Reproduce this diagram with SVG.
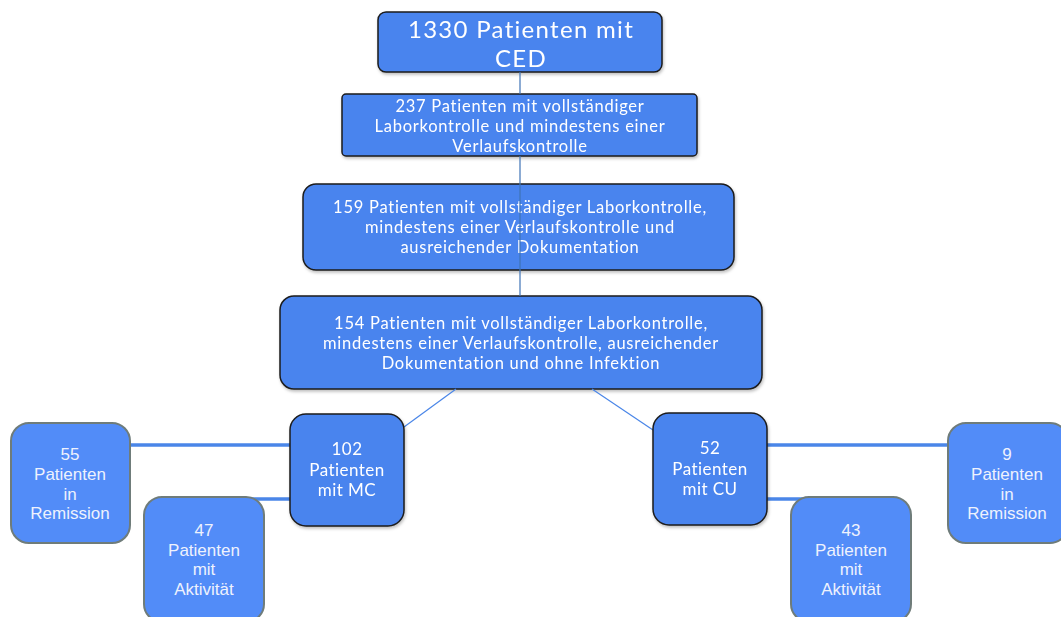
<svg xmlns="http://www.w3.org/2000/svg" width="1061" height="617" viewBox="0 0 1061 617">
<style>
.main{fill:#4a84ee;stroke:#1c1c1c;stroke-width:1.5}
.leaf{fill:#528cf8;stroke:#6f7c7a;stroke-width:2}
.t{font-family:Lato,"Open Sans",sans-serif;fill:#ffffff;text-anchor:middle}
.s{font-size:16.5px;letter-spacing:0.75px}
.m{font-size:17px;letter-spacing:0.45px}
.h{font-size:24px;letter-spacing:1.3px}
.tl{font-family:"Liberation Sans","DejaVu Sans",sans-serif;fill:#eef2fd;text-anchor:middle;font-size:17px}
.thin{stroke:#3f73b6;stroke-width:1.2;fill:none}
.diag{stroke:#4a86e8;stroke-width:1.2;fill:none}
.thick{stroke:#4a86e8;stroke-width:3.5;fill:none}
</style>
<defs>
<filter id="sh" x="-10%" y="-10%" width="120%" height="130%">
<feDropShadow dx="1" dy="2" stdDeviation="1.5" flood-color="#000" flood-opacity="0.25"/>
</filter>
</defs>
<g id="n1330" filter="url(#sh)">
<rect class="main" x="378" y="12" width="284" height="60" rx="8"/>
<text class="t h" x="521" y="38">1330 Patienten mit</text>
<text class="t h" x="521" y="67">CED</text>
</g>
<g id="n237" filter="url(#sh)">
<rect class="main" x="342" y="94" width="355" height="62" rx="4"/>
<text class="t s" x="520" y="112">237 Patienten mit vollständiger</text>
<text class="t s" x="520" y="131.5">Laborkontrolle und mindestens einer</text>
<text class="t s" x="520" y="151.5">Verlaufskontrolle</text>
</g>
<g id="n159" filter="url(#sh)">
<rect class="main" x="303" y="184" width="431" height="86" rx="13"/>
<text class="t s" x="520" y="213">159 Patienten mit vollständiger Laborkontrolle,</text>
<text class="t s" x="520" y="233">mindestens einer Verlaufskontrolle und</text>
<text class="t s" x="520" y="253">ausreichender Dokumentation</text>
</g>
<g id="n154" filter="url(#sh)">
<rect class="main" x="280" y="296" width="482" height="93" rx="14"/>
<text class="t s" x="521" y="329">154 Patienten mit vollständiger Laborkontrolle,</text>
<text class="t s" x="521" y="349">mindestens einer Verlaufskontrolle, ausreichender</text>
<text class="t s" x="521" y="369">Dokumentation und ohne Infektion</text>
</g>
<g id="connectors">
<line class="thin" x1="520" y1="72" x2="520" y2="94"/>
<line class="thin" x1="520" y1="156" x2="520" y2="296"/>
<line class="diag" x1="456" y1="389" x2="404" y2="427"/>
<line class="diag" x1="592" y1="389" x2="653" y2="430"/>
<line class="thick" x1="130" y1="445" x2="290" y2="445"/>
<line class="thick" x1="233" y1="499" x2="290" y2="499"/>
<line class="thick" x1="767" y1="445" x2="948" y2="445"/>
<line class="thick" x1="767" y1="499" x2="810" y2="499"/>
</g>
<g id="nMC" filter="url(#sh)">
<rect class="main" x="290" y="414" width="114" height="112" rx="16"/>
<text class="t m" x="347" y="455">102</text>
<text class="t m" x="347" y="475.5">Patienten</text>
<text class="t m" x="347" y="496">mit MC</text>
</g>
<g id="nCU" filter="url(#sh)">
<rect class="main" x="653" y="413" width="114" height="112" rx="16"/>
<text class="t m" x="710" y="454">52</text>
<text class="t m" x="710" y="474.5">Patienten</text>
<text class="t m" x="710" y="495">mit CU</text>
</g>
<g id="n55">
<rect class="leaf" x="11" y="423" width="119" height="120" rx="18"/>
<text class="tl" x="70" y="460">55</text>
<text class="tl" x="70" y="480">Patienten</text>
<text class="tl" x="70" y="499.5">in</text>
<text class="tl" x="70" y="519">Remission</text>
</g>
<g id="n47">
<rect class="leaf" x="144" y="497" width="120" height="125" rx="18"/>
<text class="tl" x="204" y="536">47</text>
<text class="tl" x="204" y="555.5">Patienten</text>
<text class="tl" x="204" y="575">mit</text>
<text class="tl" x="204" y="594.5">Aktivität</text>
</g>
<g id="n9">
<rect class="leaf" x="948" y="423" width="120" height="120" rx="18"/>
<text class="tl" x="1007" y="460">9</text>
<text class="tl" x="1007" y="480">Patienten</text>
<text class="tl" x="1007" y="499.5">in</text>
<text class="tl" x="1007" y="519">Remission</text>
</g>
<g id="n43">
<rect class="leaf" x="791" y="497" width="120" height="125" rx="18"/>
<text class="tl" x="851" y="536">43</text>
<text class="tl" x="851" y="555.5">Patienten</text>
<text class="tl" x="851" y="575">mit</text>
<text class="tl" x="851" y="594.5">Aktivität</text>
</g>
</svg>
